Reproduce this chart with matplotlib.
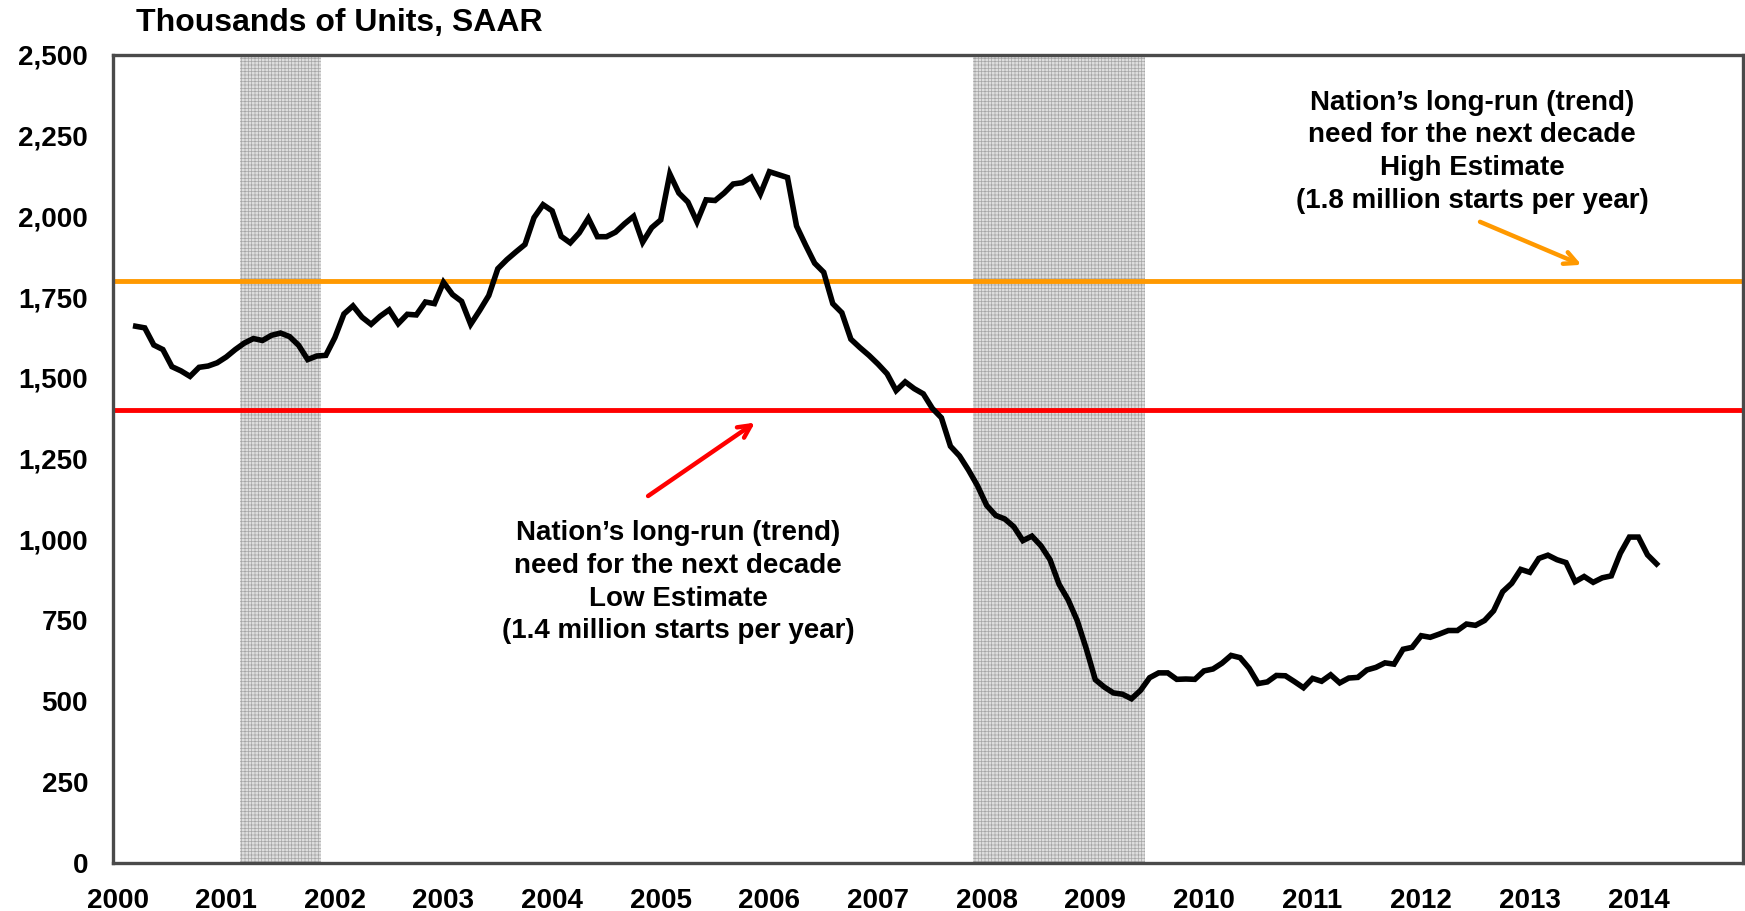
import numpy as np
import matplotlib
matplotlib.use("Agg")
import matplotlib.pyplot as plt
from matplotlib.ticker import FuncFormatter

# Housing starts, 3-month avg, thousands of units SAAR (Mar 2000 .. Mar 2014)
start_month = 2   # index 0 = Jan 2000
starts = [
    1660, 1655, 1602, 1588, 1535, 1522, 1505, 1533, 1537, 1547,             # 2000
    1565, 1588, 1608, 1622, 1616, 1632, 1639, 1628, 1601, 1557, 1568, 1570, # 2001
    1625, 1698, 1723, 1688, 1666, 1691, 1711, 1668, 1697, 1695, 1735, 1730, # 2002
    1796, 1758, 1737, 1666, 1709, 1755, 1838, 1866, 1890, 1913, 1996, 2036, # 2003
    2017, 1938, 1918, 1949, 1994, 1937, 1937, 1951, 1977, 2000, 1920, 1965, # 2004
    1989, 2131, 2072, 2044, 1983, 2051, 2049, 2072, 2100, 2104, 2121, 2069, # 2005
    2138, 2129, 2120, 1970, 1911, 1855, 1827, 1730, 1702, 1620, 1594, 1570, # 2006
    1543, 1513, 1461, 1488, 1467, 1451, 1406, 1377, 1289, 1259, 1215, 1166, # 2007
    1106, 1075, 1064, 1040, 997, 1011, 981, 938, 862, 814, 750, 663,        # 2008
    567, 544, 526, 522, 508, 534, 573, 588, 588, 568, 569, 568,             # 2009
    594, 600, 618, 642, 635, 602, 555, 560, 580, 579, 561, 542,             # 2010
    571, 562, 582, 557, 572, 574, 597, 605, 619, 615, 661, 667,             # 2011
    703, 698, 708, 719, 719, 739, 735, 750, 780, 839, 865, 908,             # 2012
    899, 942, 952, 938, 929, 870, 886, 868, 882, 888, 958, 1008,            # 2013
    1008, 953, 925,                                                         # 2014
]
years = list(range(2000, 2015))
n_months = 180

# recessions (month index start, end inclusive)
recessions = [(14, 22), (95, 113)]

high_need = 1800
low_need = 1400

x = np.arange(start_month, start_month + len(starts))

plt.rcParams['hatch.linewidth'] = 0.5
fig = plt.figure(figsize=(17.45, 9.11), dpi=100)
ax = fig.add_axes([0.0648, 0.0527, 0.9338, 0.8873])

for a, b in recessions:
    ax.axvspan(a - 0.5, b + 0.5, facecolor='#dedede', edgecolor='#a6a6a6',
               hatch='+++++', linewidth=0, zorder=1)

ax.axhline(high_need, color='#FF9900', lw=3.5, zorder=2)
ax.axhline(low_need, color='#FF0000', lw=3.5, zorder=2)
ax.plot(x, starts, color='black', lw=4.0, zorder=3, solid_joinstyle='miter')

ax.set_xlim(-0.5, n_months - 0.5)
ax.set_ylim(0, 2500)
ax.set_yticks(np.arange(0, 2501, 250))
ax.yaxis.set_major_formatter(FuncFormatter(lambda v, p: f"{int(v):,}"))
ax.set_xticks([12 * (y - 2000) for y in years])
ax.set_xticklabels([str(y) for y in years])
ax.tick_params(length=0, pad=18, labelsize=20)
for lab in ax.get_xticklabels() + ax.get_yticklabels():
    lab.set_fontfamily('Liberation Sans')
    lab.set_fontweight('bold')

for s in ax.spines.values():
    s.set_color('#4a4a4a')
    s.set_linewidth(2.4)

fig.text(136 / 1745, 1 - 23 / 911, "Thousands of Units, SAAR", fontsize=23,
         fontweight='bold', family='Liberation Sans', ha='left', va='center')

txt = dict(fontsize=20, fontweight='bold', family='Liberation Sans',
           ha='center', va='center', linespacing=1.33)
ax.text(149.6, 2200, "Nation\u2019s long-run (trend)\nneed for the next decade\n"
        "High Estimate\n(1.8 million starts per year)", **txt)
ax.text(61.9, 868, "Nation\u2019s long-run (trend)\nneed for the next decade\n"
        "Low Estimate\n(1.4 million starts per year)", **txt)

ax.annotate("", xy=(161.7, 1850), xytext=(150.5, 1983),
            arrowprops=dict(arrowstyle='->,head_length=0.9,head_width=0.45',
                            color='#FF9900', lw=3.2, shrinkA=0, shrinkB=0))
ax.annotate("", xy=(70.4, 1362), xytext=(58.6, 1135),
            arrowprops=dict(arrowstyle='->,head_length=0.9,head_width=0.45',
                            color='#FF0000', lw=3.2, shrinkA=0, shrinkB=0))

fig.savefig("out.png", dpi=100)
